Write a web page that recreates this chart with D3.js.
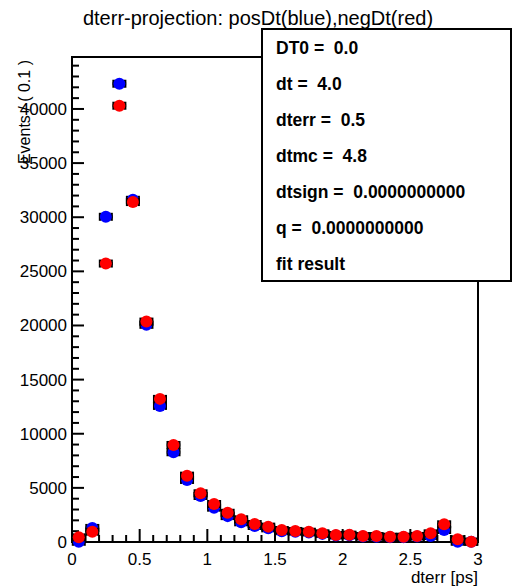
<!DOCTYPE html>
<html>
<head>
<meta charset="utf-8">
<script src="https://cdnjs.cloudflare.com/ajax/libs/d3/7.8.5/d3.min.js"></script>
<style>
  body { margin: 0; background: #fff; }
  svg { display: block; font-family: "Liberation Sans", Arial, sans-serif; }
  text { white-space: pre; }
</style>
</head>
<body>
<svg id="chart"></svg>
<script>
let width = 513;
let height = 588;

// bin centres of the dterr histogram (bin width 0.1 ps)
let binCenters = [0.05, 0.15, 0.25, 0.35, 0.45, 0.55, 0.65, 0.75, 0.85, 0.95,
                  1.05, 1.15, 1.25, 1.35, 1.45, 1.55, 1.65, 1.75, 1.85, 1.95,
                  2.05, 2.15, 2.25, 2.35, 2.45, 2.55, 2.65, 2.75, 2.85, 2.95]
let binWidth = 0.1

let posDt = [20, 1300, 30040, 42330, 31610, 20060, 12570, 8290, 5730, 4250,
             3170, 2390, 1820, 1480, 1260, 1000, 950, 880, 750, 600,
             620, 500, 490, 450, 450, 500, 550, 1110, 20, 20]
let negDt = [430, 950, 25720, 40300, 31400, 20360, 13220, 8965, 6130, 4500,
             3510, 2700, 2100, 1660, 1420, 1110, 1020, 950, 800, 650,
             680, 550, 550, 490, 490, 560, 800, 1635, 250, 30]

let xTicks = [0, 0.5, 1, 1.5, 2, 2.5, 3]
let yTicks = [0, 5000, 10000, 15000, 20000, 25000, 30000, 35000, 40000]

let infoLines = ["DT0 =  0.0", "dt =  4.0", "dterr =  0.5", "dtmc =  4.8",
                 "dtsign =  0.0000000000", "q =  0.0000000000", "fit result"]

let title = "dterr-projection: posDt(blue),negDt(red)"
let xTitle = "dterr [ps]"
let yTitle = "Events / ( 0.1 )"

let frame = { left: 72, right: 478, top: 57, bottom: 542 }

let svg = d3.select("#chart").attr("width", width).attr("height", height)

let x = d3.scaleLinear().domain([0, 3]).range([frame.left, frame.right])
let y = d3.scaleLinear().domain([0, 44800]).range([frame.bottom, frame.top])

// frame
svg.append("rect")
    .attr("x", frame.left).attr("y", frame.top)
    .attr("width", frame.right - frame.left)
    .attr("height", frame.bottom - frame.top)
    .attr("fill", "none").attr("stroke", "#000").attr("stroke-width", 2)

// ticks pointing inward, ROOT style
let xMinor = d3.range(0, 3.0001, 0.1)
svg.append("g").selectAll("line")
    .data(xMinor)
    .enter().append("line")
    .attr("x1", d => x(d)).attr("x2", d => x(d))
    .attr("y1", frame.bottom)
    .attr("y2", (d, i) => frame.bottom - (i % 5 == 0 ? 13 : 7))
    .attr("stroke", "#000").attr("stroke-width", 2)

let yMinor = d3.range(0, 44001, 1000)
svg.append("g").selectAll("line")
    .data(yMinor)
    .enter().append("line")
    .attr("y1", d => y(d)).attr("y2", d => y(d))
    .attr("x1", frame.left)
    .attr("x2", (d, i) => frame.left + (i % 5 == 0 ? 12 : 7))
    .attr("stroke", "#000").attr("stroke-width", 2)

// tick labels
svg.append("g").selectAll("text")
    .data(xTicks)
    .enter().append("text")
    .attr("x", d => x(d)).attr("y", 565)
    .attr("text-anchor", "middle")
    .attr("font-size", 17)
    .text(d => d)

svg.append("g").selectAll("text")
    .data(yTicks)
    .enter().append("text")
    .attr("x", 67).attr("y", d => y(d) + 6)
    .attr("text-anchor", "end")
    .attr("font-size", 17)
    .text(d => d)

// axis titles
svg.append("text")
    .attr("x", frame.right).attr("y", 583)
    .attr("text-anchor", "end")
    .attr("font-size", 17)
    .text(xTitle)

svg.append("text")
    .attr("transform", "translate(30,60) rotate(-90)")
    .attr("text-anchor", "end")
    .attr("font-size", 16)
    .text(yTitle)

svg.append("text")
    .attr("x", 258).attr("y", 25)
    .attr("text-anchor", "middle")
    .attr("font-size", 20)
    .text(title)

// points with error bars
function drawSeries(values, color) {
    let data = binCenters.map((c, i) => ({ c: c, v: values[i] }))
    let g = svg.append("g")
    g.selectAll(".h").data(data).enter().append("line")
        .attr("x1", d => x(d.c - binWidth / 2)).attr("x2", d => x(d.c + binWidth / 2))
        .attr("y1", d => y(d.v)).attr("y2", d => y(d.v))
        .attr("stroke", "#000").attr("stroke-width", 3)
    g.selectAll(".l").data(data).enter().append("line")
        .attr("x1", d => x(d.c - binWidth / 2) + 1).attr("x2", d => x(d.c - binWidth / 2) + 1)
        .attr("y1", d => y(d.v) - 4).attr("y2", d => y(d.v) + 4)
        .attr("stroke", "#000").attr("stroke-width", 2.5)
    g.selectAll(".r").data(data).enter().append("line")
        .attr("x1", d => x(d.c + binWidth / 2) - 1).attr("x2", d => x(d.c + binWidth / 2) - 1)
        .attr("y1", d => y(d.v) - 4).attr("y2", d => y(d.v) + 4)
        .attr("stroke", "#000").attr("stroke-width", 2.5)
    g.selectAll(".v").data(data).enter().append("line")
        .attr("x1", d => x(d.c)).attr("x2", d => x(d.c))
        .attr("y1", d => y(d.v + Math.sqrt(d.v))).attr("y2", d => y(d.v - Math.sqrt(d.v)))
        .attr("stroke", "#000").attr("stroke-width", 2)
    g.selectAll("circle").data(data).enter().append("circle")
        .attr("cx", d => x(d.c)).attr("cy", d => y(d.v))
        .attr("r", 6)
        .attr("fill", color)
}

drawSeries(posDt, "#0000ff")
drawSeries(negDt, "#ff0000")

// parameter box
let box = svg.append("g")
box.append("rect")
    .attr("x", 262).attr("y", 29)
    .attr("width", 249).attr("height", 252)
    .attr("fill", "#fff").attr("stroke", "#000").attr("stroke-width", 2)

box.selectAll("text")
    .data(infoLines)
    .enter().append("text")
    .attr("x", 276)
    .attr("y", (d, i) => 54 + i * 36)
    .attr("font-size", 17.5)
    .attr("font-weight", "bold")
    .text(d => d)
</script>
</body>
</html>
